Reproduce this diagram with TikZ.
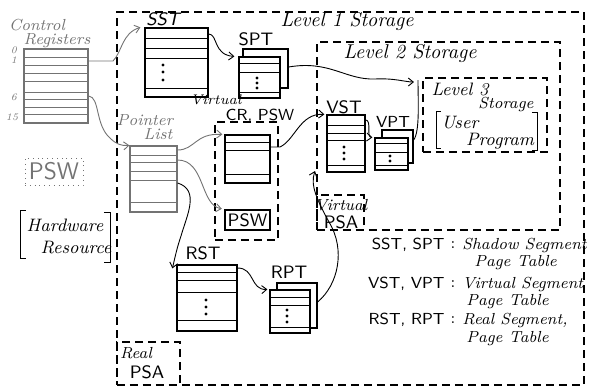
\documentclass[tikz,border=0pt]{standalone}
\usepackage{tikz}
\usetikzlibrary{arrows.meta,fit}

\begin{document}
\begin{tikzpicture}[x=0.5pt, y=-0.5pt, >={Straight Barb[length=2.5pt,width=4pt]},
    every node/.style={inner sep=1pt},
    lvl/.style={draw, dash pattern=on 4pt off 2.5pt, line width=0.6pt, inner sep=0pt},
    tbl/.style={draw, inner sep=0pt, line width=0.6pt, fill=white},
    rows/.style={line width=0.4pt},
    lnk/.style={->, line width=0.45pt},
    hand/.style={font=\footnotesize\itshape},
    lbl/.style={font=\small\sffamily},
    faint/.style={color=black!55}]
  \useasboundingbox (0,0) rectangle (591,392);

  \node[lvl, fit={(117,12)(584,385)}] (l1) {};
  \node[lvl, fit={(317,42)(560,230)}] (l2) {};
  \node[lvl, fit={(423,78)(547,152)}] (l3) {};
  \node[lvl, fit={(117,342)(180,385)}] (rpsa) {};
  \node[lvl, fit={(317,195)(364,230)}] (vpsa) {};
  \node[lvl, fit={(215,122)(278,240)}] (vcrb) {};
  \node[hand, font=\itshape] (l1t) at (347,21) {Level 1 Storage};
  \node[hand, font=\itshape] (l2t) at (410,53) {Level 2 Storage};
  \node[hand, font=\small\itshape] (l3t) at (460,89) {Level 3};
  \node[hand] (l3s) at (506,104) {Storage};
  \node[hand, font=\small\itshape] (usr) at (460,123) {User};
  \node[hand, font=\small\itshape] (prg) at (500,141) {Program};
  \draw (441,111) -- (436,111) -- (436,148) -- (441,148);
  \draw (532,112) -- (537,112) -- (537,150) -- (532,150);
  \node[hand] (rpt1) at (136,353) {Real};
  \node[lbl] (rpt2) at (147,372) {PSA};
  \node[hand] (vpt1) at (341,205) {Virtual};
  \node[lbl] (vpt2) at (341,222) {PSA};

  \node[faint, tbl, fit={(24,49)(88,123)}] (cr) {};
  \draw[rows, faint] (cr.west |- 0,57) -- (cr.east |- 0,57) (cr.west |- 0,65) -- (cr.east |- 0,65) (cr.west |- 0,73) -- (cr.east |- 0,73) (cr.west |- 0,81) -- (cr.east |- 0,81) (cr.west |- 0,92) -- (cr.east |- 0,92) (cr.west |- 0,99) -- (cr.east |- 0,99) (cr.west |- 0,107) -- (cr.east |- 0,107) (cr.west |- 0,114) -- (cr.east |- 0,114);
  \node[hand, faint] (crt1) at (37,25) {Control};
  \node[hand, faint] (crt2) at (57,41) {Registers};
  \node[faint, font=\tiny\itshape] (n0) at (14,50) {0};
  \node[faint, font=\tiny\itshape] (n1) at (14,60) {1};
  \node[faint, font=\tiny\itshape] (n6) at (14,97) {6};
  \node[faint, font=\tiny\itshape] (n15) at (12,117) {15};

  \node[draw, dotted, faint, inner sep=0pt, fit={(25,158)(83,185)}] (psw0) {};
  \node[faint, font=\large\sffamily] (psw0t) at (psw0) {PSW};
  \node[hand, font=\small\itshape] (hw) at (65,225) {Hardware};
  \node[hand, font=\small\itshape] (rs) at (76,248) {Resource};
  \draw (26,210) -- (20,210) -- (20,258) -- (26,258);
  \draw (104,212) -- (110,212) -- (110,262) -- (104,262);

  \node[tbl, fit={(145,28)(208,97)}] (sst) {};
  \draw[rows] (sst.west |- 0,38) -- (sst.east |- 0,38) (sst.west |- 0,48) -- (sst.east |- 0,48) (sst.west |- 0,58) -- (sst.east |- 0,58) (sst.west |- 0,88) -- (sst.east |- 0,88);
  \fill (163,65) circle (0.8pt) (163,72) circle (0.8pt) (163,80) circle (0.8pt);
  \node[lbl, font=\small\sffamily\itshape] (sstt) at (163,19) {SST};

  \node[tbl, fit={(243,49)(288,88)}] (sptb) {};
  \node[tbl, fit={(239,57)(280,98)}] (sptf) {};
  \draw[rows] (sptf.west |- 0,63) -- (sptf.east |- 0,63) (sptf.west |- 0,72) -- (sptf.east |- 0,72) (sptf.west |- 0,92) -- (sptf.east |- 0,92);
  \fill (257,78) circle (0.8pt) (257,83) circle (0.8pt) (257,88) circle (0.8pt);
  \node[lbl] (sptt) at (256,39) {SPT};
  \node[hand, font=\scriptsize\itshape, inner sep=0pt] (vct1) at (216,100) {Virtual};
  \node[lbl, font=\footnotesize\sffamily, inner sep=0pt] (vct2) at (260,116) {CR, PSW};

  \node[faint, tbl, fit={(130,146)(177,212)}] (ptr) {};
  \draw[rows, faint] (ptr.west |- 0,155) -- (ptr.east |- 0,155) (ptr.west |- 0,162) -- (ptr.east |- 0,162) (ptr.west |- 0,171) -- (ptr.east |- 0,171) (ptr.west |- 0,180) -- (ptr.east |- 0,180) (ptr.west |- 0,202) -- (ptr.east |- 0,202);
  \node[hand, faint] (ptrt1) at (145,120) {Pointer};
  \node[hand, faint] (ptrt2) at (158,134) {List};

  \node[tbl, fit={(225,135)(270,183)}] (vcr) {};
  \draw[rows] (vcr.west |- 0,142) -- (vcr.east |- 0,142) (vcr.west |- 0,150) -- (vcr.east |- 0,150) (vcr.west |- 0,174) -- (vcr.east |- 0,174);
  \node[tbl, line width=1.2pt, fit={(225,210)(270,230)}] (psw) {};
  \node[lbl] (pswt) at (psw) {PSW};

  \node[tbl, fit={(327,115)(365,172)}] (vst) {};
  \draw[rows] (vst.west |- 0,125) -- (vst.east |- 0,125) (vst.west |- 0,133) -- (vst.east |- 0,133) (vst.west |- 0,140) -- (vst.east |- 0,140) (vst.west |- 0,165) -- (vst.east |- 0,165);
  \fill (344,147) circle (0.8pt) (344,153) circle (0.8pt) (344,159) circle (0.8pt);
  \node[lbl] (vstt) at (344,107) {VST};

  \node[tbl, fit={(382,130)(413,163)}] (vptb) {};
  \node[tbl, fit={(375,138)(408,170)}] (vptf) {};
  \draw[rows] (vptf.west |- 0,143) -- (vptf.east |- 0,143) (vptf.west |- 0,152) -- (vptf.east |- 0,152) (vptf.west |- 0,165) -- (vptf.east |- 0,165);
  \fill (390,156) circle (0.8pt) (390,161) circle (0.8pt);
  \node[lbl, font=\footnotesize\sffamily] (vptt) at (393,122) {VPT};

  \node[tbl, fit={(177,265)(237,331)}] (rst) {};
  \draw[rows] (rst.west |- 0,272) -- (rst.east |- 0,272) (rst.west |- 0,280) -- (rst.east |- 0,280) (rst.west |- 0,292) -- (rst.east |- 0,292) (rst.west |- 0,320) -- (rst.east |- 0,320);
  \fill (206,300) circle (0.8pt) (206,307) circle (0.8pt) (206,314) circle (0.8pt);
  \node[lbl] (rstt) at (203,253) {RST};

  \node[tbl, fit={(277,283)(317,328)}] (rptb) {};
  \node[tbl, fit={(270,290)(310,333)}] (rptf) {};
  \draw[rows] (rptf.west |- 0,297) -- (rptf.east |- 0,297) (rptf.west |- 0,305) -- (rptf.east |- 0,305) (rptf.west |- 0,327) -- (rptf.east |- 0,327);
  \fill (287,310) circle (0.8pt) (287,316) circle (0.8pt) (287,322) circle (0.8pt);
  \node[lbl] (rptt) at (289,272) {RPT};

  \coordinate (l3in) at (414,82);
  \coordinate (vpsain) at (315,171);
  \draw[lnk, faint] (cr.east |- 0,61) -- (113,61) .. controls (122,52) and (122,33) .. ([xshift=-2pt]sst.north west);
  \draw[lnk, faint] (cr.east |- 0,96) .. controls (100,97) and (95,125) .. (110,138) .. controls (116,144) and (121,146) .. (ptr.north west);
  \draw[lnk] (sst.east |- 0,34) .. controls (218,34) and (213,55) .. ([xshift=-2pt]sptf.north west);
  \draw[lnk] (sptb.east |- 0,67) .. controls (330,60) and (345,80) .. (375,79) .. controls (395,78) and (405,82) .. (l3in);
  \draw[line width=0.45pt] (vptb.east |- 0,140) .. controls (420,132) and (418,100) .. (418,80);
  \draw[lnk, faint] (ptr.east |- 0,150) .. controls (195,150) and (195,133) .. ([xshift=-1pt]vcr.north west);
  \draw[lnk, faint] (ptr.east |- 0,160) .. controls (205,160) and (200,205) .. ([xshift=-1pt]psw.north west);
  \draw[lnk] (ptr.east |- 0,183) .. controls (200,190) and (187,215) .. (181,236) .. controls (177,248) and (176,253) .. ([shift={(-2pt,-2pt)}]rst.north west);
  \draw[lnk] (vcr.east |- 0,147) -- (280,147) .. controls (295,140) and (300,113) .. ([xshift=-1pt]vst.north west);
  \draw[lnk] (vst.east |- 0,120) .. controls (372,120) and (366,137) .. ([xshift=-1pt]vptf.north west);
  \draw[lnk] (rst.east |- 0,268) .. controls (255,268) and (250,290) .. ([xshift=-1pt]rptf.north west);
  \draw[lnk] (rptb.east |- 0,302) .. controls (338,285) and (346,250) .. (329,222) .. controls (317,200) and (310,185) .. (vpsain);

  \node[lbl, font=\footnotesize\sffamily, anchor=east] (k1) at (447,245) {SST, SPT};
  \node[font=\footnotesize] (c1) at (453,245) {:};
  \node[hand, anchor=west] (d1) at (460,245) {Shadow Segment};
  \node[hand, anchor=west] (e1) at (472,263) {Page Table};
  \node[lbl, font=\footnotesize\sffamily, anchor=east] (k2) at (447,284) {VST, VPT};
  \node[font=\footnotesize] (c2) at (453,284) {:};
  \node[hand, anchor=west] (d2) at (460,284) {Virtual Segment};
  \node[hand, anchor=west] (e2) at (464,302) {Page Table};
  \node[lbl, font=\footnotesize\sffamily, anchor=east] (k3) at (447,320) {RST, RPT};
  \node[font=\footnotesize] (c3) at (453,320) {:};
  \node[hand, anchor=west] (d3) at (460,320) {Real Segment,};
  \node[hand, anchor=west] (e3) at (464,339) {Page Table};
\end{tikzpicture}
\end{document}
